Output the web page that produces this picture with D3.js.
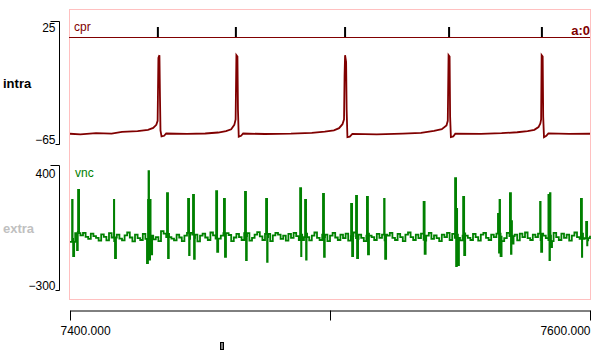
<!DOCTYPE html>
<html>
<head>
<meta charset="utf-8">
<script src="https://cdn.jsdelivr.net/npm/d3@7"></script>
<style>
  body { margin: 0; background: #fff; }
  svg { display: block; font-family: "Liberation Sans", Arial, sans-serif; }
</style>
</head>
<body>
<svg id="chart" width="600" height="350"></svg>
<script>
// time window (ms)
const timeDomain = [7400, 7600];
const timeTicks = [7400, 7500, 7600];

// intracellular trace: [time, mV]
const intraTrace = [
  [7400, -57.5], [7404, -58], [7410, -57], [7416, -57.4], [7420, -56.2], [7426, -55.6], [7430, -54.6], [7432, -53.2],
  [7433.2, -51], [7433.7, -48], [7434.0, -2], [7434.4, 0], [7434.6, -30], [7434.8, -55],
  [7435.2, -59.5], [7436.2, -59], [7437.0, -57.3], [7445, -57.6], [7452, -57.3], [7457, -56.6],
  [7460, -55.6], [7462, -54.2], [7463.2, -51], [7463.7, -47], [7464.0, 0], [7464.4, -1],
  [7464.6, -40], [7464.9, -59.6], [7465.8, -59], [7466.6, -57.3], [7475, -57.7], [7485, -57.4],
  [7493, -56.8], [7498, -56], [7501.5, -55], [7503.5, -53.4], [7504.8, -50.5], [7505.4, -47],
  [7505.6, -15], [7505.8, 0], [7506.2, -5], [7506.4, -40], [7506.7, -60], [7507.6, -59.6],
  [7508.6, -57.6], [7518, -58], [7528, -57.4], [7535, -56.8], [7540, -55.4], [7543, -54.2],
  [7544.8, -51.5], [7545.3, -48], [7545.6, 0], [7546.0, -1], [7546.2, -45], [7546.5, -60],
  [7547.4, -59.5], [7548.2, -57.4], [7558, -57.6], [7566, -57.1], [7572, -56.4], [7576, -55.6],
  [7578.6, -54.6], [7580.2, -52.6], [7580.9, -50], [7581.2, -47], [7581.4, 0], [7581.8, -1],
  [7582.0, -45], [7582.3, -60], [7583.2, -59], [7584.0, -57.2], [7592, -57.6], [7600, -57.5]
];

// compound action potential markers (ms)
const cprTimes = [7433.8, 7463.8, 7505.8, 7545.8, 7581.5];

// extracellular baseline, one sample per ms from 7400
const extraBaseline = [
  -30, -14, 18, 26, 6, 20, -2, -14, 16, 2,
  -8, -24, 12, -2, -22, 18, -6, -26, 10, -12,
  -22, 6, 22, -6, -28, 10, -10, -20, 14, -14,
  4, 22, -16, -4, -26, 30, 16, -4, 14, -12,
  -22, 10, -6, -26, 4, 20, -14, 10, -8, -28,
  4, 16, -6, -20, 22, 6, -12, -22, 4, 18,
  -14, 8, -26, -6, 14, -4, -20, 18, 2, -24,
  -8, 10, 24, 0, -20, 14, -4, -26, 6, 20,
  10, -14, 4, -24, 14, -8, 20, 2, -20, 10,
  -4, 16, -22, 4, 22, -8, -20, 10, -4, -26,
  4, 20, -6, -20, 10, -10, 16, -24, 2, 22,
  -14, 10, -8, -26, 4, 20, -4, -20, 14, -8,
  10, -22, 4, 20, -8, -20, 14, -4, -26, 10,
  22, -4, -20, 10, -10, 16, -24, 4, 20, -14,
  6, -10, -26, 10, -4, 20, -20, 14, -8, 10,
  -22, 4, 22, -8, -20, 14, -4, -24, 10, 20,
  -8, -20, 10, -4, 16, -26, 4, -10, 20, 2,
  -14, 10, -22, 16, -4, 22, -10, -20, 10, -4,
  16, -20, 4, -10, -26, 10, 20, -4, -20, 16,
  -8, 10, -24, 4, 22, -4, -14, 16, -10, -22,
  4
];

// extracellular spikes: [time, successive sample values]
const extraSpikes = [
  [7400.8, 204, -110], [7402.7, -76, 260], [7416.9, 204, -121], [7429.6, -149, 204],
  [7430.2, 366, -130], [7430.8, 204, -100], [7437.3, 243, -121], [7445.4, 210, -104],
  [7447.3, 232, -126], [7456.2, 254, -87], [7459.2, 210, -115], [7467.3, 249, -132],
  [7475.4, 210, -143], [7488.5, 271, -110], [7490.4, 204, -130], [7497.3, 238, -115],
  [7508.1, 182, -110], [7510.0, 227, -121], [7514.2, 221, -100], [7520.8, 210, -126],
  [7536.0, 193, -98], [7548.1, 327, -166], [7548.8, 154, -160], [7551.2, 221, -104],
  [7564.6, 126, -90], [7565.2, 204, -110], [7569.2, 243, -98], [7569.8, 86, -40],
  [7580.8, 193, -87], [7584.0, 232, -132], [7584.6, 243, -60], [7596.5, 210, -115],
  [7598.5, 81, -50]
];

const intraRange = [-65, 25];
const extraRange = [-300, 400];

const svg = d3.select('#chart');
const red = '#800000';
const green = '#008000';

const x = d3.scaleLinear().domain(timeDomain).range([70, 590]);
const yIntra = d3.scaleLinear().domain(intraRange).range([144, 21]);
const yExtra = d3.scaleLinear().domain(extraRange).range([290, 165]);

// plot frame
svg.append('rect')
  .attr('x', 69.5).attr('y', 9.5)
  .attr('width', 521).attr('height', 290)
  .attr('fill', 'none')
  .attr('stroke', '#ffc0c0');

// cpr channel
svg.append('line')
  .attr('x1', 69).attr('x2', 590)
  .attr('y1', 37.5).attr('y2', 37.5)
  .attr('stroke', red).attr('stroke-width', 1);

svg.selectAll('.cpr')
  .data(cprTimes)
  .join('line')
  .attr('class', 'cpr')
  .attr('x1', d => x(d)).attr('x2', d => x(d))
  .attr('y1', 27).attr('y2', 37)
  .attr('stroke', '#000').attr('stroke-width', 2);

svg.append('text').attr('x', 74).attr('y', 31)
  .attr('font-size', 12).attr('fill', red).text('cpr');
svg.append('text').attr('x', 590).attr('y', 35)
  .attr('text-anchor', 'end').attr('font-size', 13).attr('font-weight', 'bold')
  .attr('fill', red).text('a:0');

// intra trace
const intraLine = d3.line()
  .x(d => x(d[0]))
  .y(d => yIntra(d[1]));

svg.append('path')
  .attr('d', intraLine(intraTrace))
  .attr('fill', 'none')
  .attr('stroke', red)
  .attr('stroke-width', 1.8);

// extra trace: baseline samples with spikes spliced in
const extraPoints = extraBaseline.map((v, i) => [timeDomain[0] + i, v]);
extraSpikes.forEach(([t, ...vals]) => {
  vals.forEach((v, k) => extraPoints.push([t + k * 0.4, v]));
  extraPoints.push([t + vals.length * 0.4, extraBaseline[Math.floor(t - timeDomain[0])]]);
});
extraPoints.sort((a, b) => a[0] - b[0]);

const extraLine = d3.line()
  .curve(d3.curveStepAfter)
  .x(d => x(d[0]))
  .y(d => yExtra(d[1]));

svg.append('path')
  .attr('d', extraLine(extraPoints))
  .attr('fill', 'none')
  .attr('stroke', green)
  .attr('stroke-width', 1.8);

svg.append('text').attr('x', 75).attr('y', 177)
  .attr('font-size', 12).attr('fill', green).text('vnc');

// channel axes (brackets: long tick on top, short at bottom)
const bracket = (scale, range, topDy) => {
  const g = svg.append('g')
    .attr('transform', 'translate(59.5,0)')
    .call(d3.axisLeft(scale).tickValues([range[1], range[0]])
      .tickSize(0).tickSizeOuter(9).tickPadding(4));
  const top = scale(range[1]) + 0.5;
  const bottom = scale(range[0]) + 0.5;
  g.select('.domain')
    .attr('stroke', '#000')
    .attr('d', `M-9,${top}H0V${bottom}H-4`);
  g.selectAll('text')
    .attr('font-size', 12)
    .attr('font-family', '"Liberation Sans", Arial, sans-serif')
    .attr('fill', '#000')
    .attr('dy', d => d === range[1] ? topDy : -1);
  return g;
};
bracket(yIntra, intraRange, 10);
bracket(yExtra, extraRange, 12);

svg.append('text').attr('x', 3).attr('y', 88)
  .attr('font-size', 13).attr('font-weight', 'bold').attr('fill', '#000').text('intra');
svg.append('text').attr('x', 3).attr('y', 233)
  .attr('font-size', 13).attr('font-weight', 'bold').attr('fill', '#c0c0c0').text('extra');

// time axis
const xAxis = svg.append('g')
  .attr('transform', 'translate(0,310.5)')
  .call(d3.axisBottom(x).tickValues(timeTicks)
    .tickFormat(d => d === 7500 ? '' : d.toFixed(3))
    .tickSize(10).tickSizeOuter(0).tickPadding(6));
xAxis.select('.domain').attr('stroke', '#000');
xAxis.selectAll('.tick line').attr('stroke', '#000');
xAxis.selectAll('text')
  .attr('font-size', 12)
  .attr('font-family', '"Liberation Sans", Arial, sans-serif')
  .attr('fill', '#000')
  .attr('text-anchor', d => d === 7400 ? 'start' : 'end')
  .attr('dx', d => d === 7400 ? -10 : 0);

// scroll marker
svg.append('rect')
  .attr('x', 220.5).attr('y', 342.5)
  .attr('width', 3).attr('height', 7)
  .attr('fill', '#808080').attr('stroke', '#000');
</script>
</body>
</html>
